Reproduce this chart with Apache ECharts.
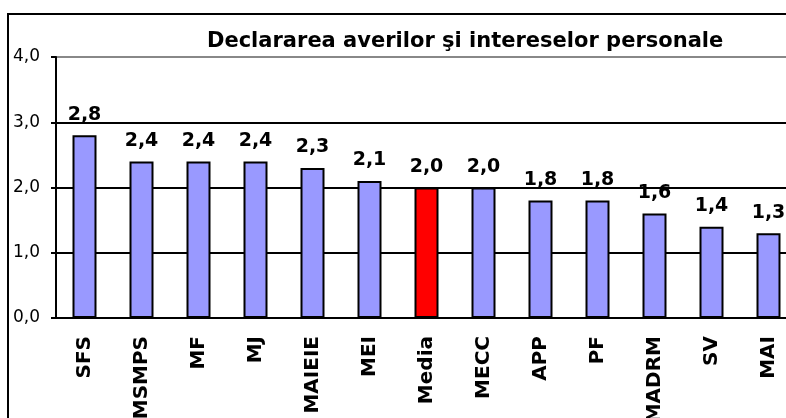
<!DOCTYPE html>
<html>
<head>
<meta charset="utf-8">
<script src="https://cdn.jsdelivr.net/npm/echarts@6/dist/echarts.min.js"></script>
<style>
  html, body { margin: 0; padding: 0; overflow: hidden; background: #fff; }
  #main { width: 1000px; height: 600px; }
</style>
</head>
<body>
<div id="main"></div>
<script>
const categories = ['SFS', 'MSMPS', 'MF', 'MJ', 'MAIEIE', 'MEI', 'Media', 'MECC', 'APP', 'PF', 'MADRM', 'SV', 'MAI']
const values = [2.8, 2.4, 2.4, 2.4, 2.3, 2.1, 2.0, 2.0, 1.8, 1.8, 1.6, 1.4, 1.3]
const highlight = 'Media'

const font = 'DejaVu Sans'
const comma = v => v.toFixed(1).replace('.', ',')

var myChart = echarts.init(document.getElementById('main'))

let option = {
    animation: false,
    backgroundColor: '#fff',
    title: {
        text: 'Declararea averilor şi intereselor personale',
        left: 202,
        top: 26,
        textStyle: { fontFamily: font, fontWeight: 'bold', fontSize: 21, color: '#000' }
    },
    graphic: [{
        type: 'rect',
        shape: { x: 8, y: 14, width: 980, height: 570 },
        style: { fill: 'none', stroke: '#000', lineWidth: 2 },
        z: -1
    }],
    grid: { left: 56, top: 57, width: 741, height: 261 },
    xAxis: {
        type: 'category',
        data: categories,
        axisLine: { lineStyle: { color: '#000', width: 2 } },
        axisTick: { length: 8, lineStyle: { color: '#000', width: 2 } },
        axisLabel: {
            rotate: 90, margin: 18, interval: 0,
            fontFamily: font, fontWeight: 'bold', fontSize: 20, color: '#000'
        }
    },
    yAxis: {
        type: 'value',
        min: 0, max: 4, interval: 1,
        axisLine: { show: true, lineStyle: { color: '#000', width: 2 } },
        axisTick: { show: true, length: 5, lineStyle: { color: '#000', width: 2 } },
        axisLabel: {
            margin: 16, formatter: v => comma(v),
            fontFamily: font, fontSize: 17, color: '#000'
        },
        splitLine: { lineStyle: { color: ['#000', '#000', '#000', '#000', '#888'], width: 2 } }
    },
    series: [{
        type: 'bar',
        barWidth: 24,
        data: values.map((v, i) => ({
            value: v,
            itemStyle: { color: categories[i] === highlight ? '#ff0000' : '#9999ff' }
        })),
        itemStyle: { borderColor: '#000', borderWidth: 2 },
        label: {
            show: true, position: 'top', distance: 11,
            formatter: p => comma(p.value),
            fontFamily: font, fontWeight: 'bold', fontSize: 19, color: '#000'
        }
    }]
}

myChart.setOption(option)
</script>
</body>
</html>
